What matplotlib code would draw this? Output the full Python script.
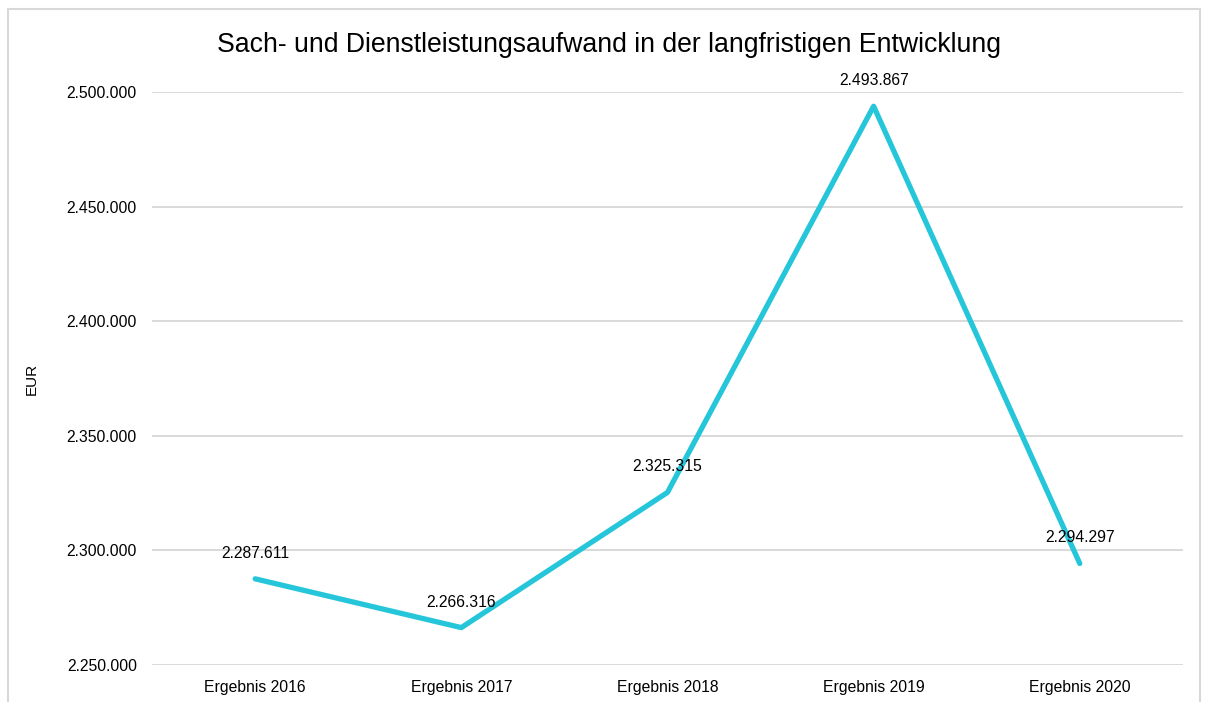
import matplotlib
matplotlib.use("Agg")
import matplotlib.pyplot as plt
from matplotlib.patches import Rectangle
from matplotlib.ticker import FuncFormatter

categories = ["Ergebnis 2016", "Ergebnis 2017", "Ergebnis 2018", "Ergebnis 2019", "Ergebnis 2020"]
values = [2287611, 2266316, 2325315, 2493867, 2294297]
title = "Sach- und Dienstleistungsaufwand in der langfristigen Entwicklung"


def de_format(v, pos=None):
    return "{:,.0f}".format(v).replace(",", ".")


plt.rcParams["font.family"] = ["Liberation Sans", "DejaVu Sans"]

fig = plt.figure(figsize=(12.07, 7.02), dpi=100)
ax = fig.add_axes([0.126, 0.0527, 0.854, 0.816])

x = list(range(len(categories)))
ax.plot(x, values, color="#26C6DA", linewidth=3.8, solid_capstyle="round", zorder=3)

# labels above each point
for xi, v in zip(x, values):
    ax.annotate(de_format(v), (xi, v), xytext=(0, 13), textcoords="offset points",
                ha="center", va="bottom", fontsize=11.3, color="#000000", zorder=4)

ax.set_xlim(-0.5, len(categories) - 0.5)
ax.set_ylim(2250000, 2500000)
ax.set_yticks(range(2250000, 2500001, 50000))
ax.yaxis.set_major_formatter(FuncFormatter(de_format))
ax.set_xticks(x)
ax.set_xticklabels(categories)
ax.tick_params(axis="both", length=0, labelsize=11.3, colors="#000000")
ax.tick_params(axis="y", pad=11)
ax.tick_params(axis="x", pad=11)
ax.grid(axis="y", color="#D9D9D9", linewidth=1.4)
ax.set_axisbelow(True)
for s in ax.spines.values():
    s.set_visible(False)

ax.set_ylabel("EUR", fontsize=11, labelpad=20)
fig.text(0.5046, 0.936, title, ha="center", va="center", fontsize=19.2)

fig.patches.append(Rectangle((8 / 1207, -0.02), 1192 / 1207, 1.007,
                             transform=fig.transFigure, fill=False,
                             edgecolor="#D9D9D9", linewidth=1.5))

fig.savefig("out.png", dpi=100)
